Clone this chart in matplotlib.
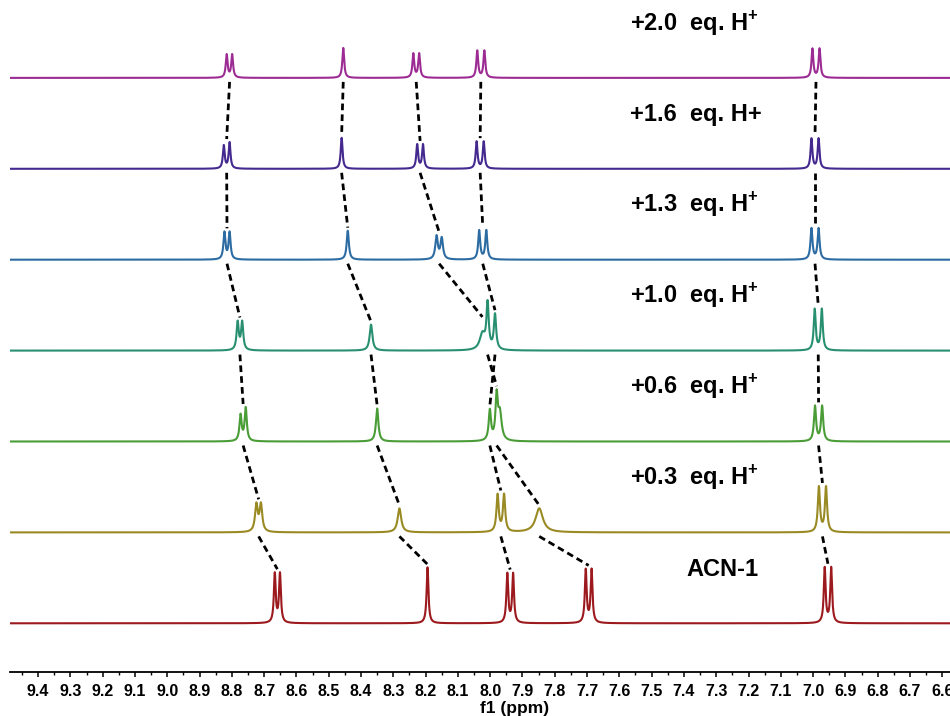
import numpy as np
import matplotlib
matplotlib.use("Agg")
import matplotlib.pyplot as plt
from matplotlib.ticker import MultipleLocator, FormatStrFormatter

plt.rcParams['font.family'] = ['Liberation Sans', 'DejaVu Sans']
plt.rcParams['mathtext.fontset'] = 'custom'
plt.rcParams['mathtext.rm'] = 'Liberation Sans'
plt.rcParams['mathtext.bf'] = 'Liberation Sans:bold'

# ---------------------------------------------------------------------------
# Titration series, listed from bottom trace to top trace
# ---------------------------------------------------------------------------
samples = [
    "ACN-1",
    "+0.3  eq. H$^{\\mathbf{+}}$",
    "+0.6  eq. H$^{\\mathbf{+}}$",
    "+1.0  eq. H$^{\\mathbf{+}}$",
    "+1.3  eq. H$^{\\mathbf{+}}$",
    "+1.6  eq. H+",
    "+2.0  eq. H$^{\\mathbf{+}}$",
]
colors = ["#9C1A1E", "#9A8A24", "#4A9C37", "#289070", "#2D6CA3", "#44298F", "#9C2C93"]

# Resolved lines of each spectrum: shift (ppm), intensity, half width (ppm)
shift_acn1 = [8.667, 8.651, 8.194, 7.947, 7.929, 7.704, 7.686, 6.964, 6.944]
inten_acn1 = [49, 49, 56, 49, 49, 53, 53, 55, 55]
hw_acn1 = [0.0034, 0.0034, 0.0034, 0.0034, 0.0034, 0.0034, 0.0034, 0.0034, 0.0034]

shift_h03 = [8.724, 8.710, 8.281, 7.977, 7.957, 7.848, 6.982, 6.960]
inten_h03 = [27, 27, 24, 37, 37, 24, 45, 45]
hw_h03 = [0.005, 0.005, 0.0065, 0.0042, 0.0042, 0.0135, 0.004, 0.004]

shift_h06 = [8.773, 8.757, 8.350, 8.001, 7.980, 7.970, 6.994, 6.972]
inten_h06 = [26, 33, 33, 30, 43, 27, 35, 35]
hw_h06 = [0.004, 0.004, 0.0045, 0.0042, 0.0042, 0.0065, 0.004, 0.004]

shift_h10 = [8.782, 8.768, 8.369, 8.024, 8.008, 7.985, 6.995, 6.973]
inten_h10 = [28, 28, 26, 16, 45, 35, 41, 41]
hw_h10 = [0.004, 0.004, 0.005, 0.010, 0.0042, 0.0042, 0.0037, 0.0037]

shift_h13 = [8.823, 8.807, 8.441, 8.166, 8.150, 8.034, 8.012, 7.005, 6.983]
inten_h13 = [27, 27, 29, 23, 21, 29, 29, 31, 31]
hw_h13 = [0.0037, 0.0037, 0.004, 0.0046, 0.0046, 0.0037, 0.0037, 0.0037, 0.0037]

shift_h16 = [8.825, 8.807, 8.460, 8.226, 8.208, 8.042, 8.020, 7.005, 6.983]
inten_h16 = [23, 26, 31, 24, 24, 27, 27, 30, 30]
hw_h16 = [0.0034, 0.0034, 0.0034, 0.0034, 0.0034, 0.0034, 0.0034, 0.0034, 0.0034]

shift_h20 = [8.816, 8.799, 8.455, 8.238, 8.220, 8.040, 8.018, 7.002, 6.980]
inten_h20 = [23, 23, 30, 24, 24, 27, 27, 29, 29]
hw_h20 = [0.0034, 0.0034, 0.0034, 0.0034, 0.0034, 0.0034, 0.0034, 0.0034, 0.0034]

spectra = [
    (shift_acn1, inten_acn1, hw_acn1),
    (shift_h03, inten_h03, hw_h03),
    (shift_h06, inten_h06, hw_h06),
    (shift_h10, inten_h10, hw_h10),
    (shift_h13, inten_h13, hw_h13),
    (shift_h16, inten_h16, hw_h16),
    (shift_h20, inten_h20, hw_h20),
]

# Peak tracking between neighbouring spectra: (shift in upper trace, shift in lower trace)
track_03_to_acn1 = [(8.717, 8.659), (8.281, 8.194), (7.967, 7.938), (7.848, 7.695), (6.971, 6.954)]
track_06_to_03 = [(8.765, 8.717), (8.350, 8.281), (8.001, 7.967), (7.980, 7.848), (6.983, 6.971)]
track_10_to_06 = [(8.775, 8.765), (8.369, 8.350), (8.008, 7.980), (7.985, 8.001), (6.984, 6.983)]
track_13_to_10 = [(8.815, 8.775), (8.441, 8.369), (8.158, 8.024), (8.023, 7.985), (6.994, 6.984)]
track_16_to_13 = [(8.816, 8.815), (8.460, 8.441), (8.217, 8.158), (8.031, 8.023), (6.994, 6.994)]
track_20_to_16 = [(8.807, 8.816), (8.455, 8.460), (8.229, 8.217), (8.029, 8.031), (6.991, 6.994)]
tracks = [track_03_to_acn1, track_06_to_03, track_10_to_06,
          track_13_to_10, track_16_to_13, track_20_to_16]

# ---------------------------------------------------------------------------
# Layout
# ---------------------------------------------------------------------------
W, H = 950, 716
axis_y_px = 671.7
x_left, x_right = 9.487, 6.576
first_base = 48.4
step = 90.9
label_rise = 47.5

fig = plt.figure(figsize=(W / 100, H / 100), dpi=100)
ax = fig.add_axes([10 / W, (H - axis_y_px) / H, 940 / W, axis_y_px / H])
ax.set_xlim(x_left, x_right)
ax.set_ylim(0, axis_y_px)

ppm = np.linspace(9.52, 6.55, 9000)


def lorentz_sum(x, shifts, inten, hw):
    y = np.zeros_like(x)
    for s, h, g in zip(shifts, inten, hw):
        y += h * g ** 2 / ((x - s) ** 2 + g ** 2)
    return y


curves = []
for i, ((sh, it, hw), col) in enumerate(zip(spectra, colors)):
    base = first_base + i * step
    y = lorentz_sum(ppm, sh, it, hw)
    curves.append(y)
    ax.plot(ppm, base + y, color=col, lw=1.5, solid_joinstyle='round')

# Dashed guides following each resonance through the titration
for i, pairs in enumerate(tracks):
    lower_base = first_base + i * step
    upper_base = first_base + (i + 1) * step
    for up, lo in pairs:
        win = np.abs(ppm - lo) <= 0.012
        top_of_lower = lower_base + curves[i][win].max()
        ax.plot([up, lo], [upper_base - 4, top_of_lower + 3], color='black',
                lw=2.0, linestyle=(0, (2.4, 1.5)), solid_capstyle='butt')

# Sample labels
for i, text in enumerate(samples):
    base = first_base + i * step
    x = 7.391 if i == 0 else 7.567
    ax.text(x, base + label_rise, text, ha='left', va='baseline',
            fontsize=17, fontweight='bold', color='black')

# Axis styling: only the ppm scale at the bottom
for side in ('left', 'right', 'top'):
    ax.spines[side].set_visible(False)
ax.spines['bottom'].set_linewidth(1.3)
ax.set_yticks([])
ax.xaxis.set_major_locator(MultipleLocator(0.1))
ax.xaxis.set_minor_locator(MultipleLocator(0.05))
ax.xaxis.set_major_formatter(FormatStrFormatter('%.1f'))
ax.tick_params(axis='x', which='major', direction='out', length=3.5, width=1.1,
               pad=5, labelsize=11.5)
ax.tick_params(axis='x', which='minor', direction='out', length=2, width=1.0)
for lab in ax.get_xticklabels():
    lab.set_fontweight('bold')

fig.text(515 / W, 1 - 708 / H, 'f1 (ppm)', ha='center', va='center',
         fontsize=12.5, fontweight='bold')

fig.savefig('out.png', dpi=100)
